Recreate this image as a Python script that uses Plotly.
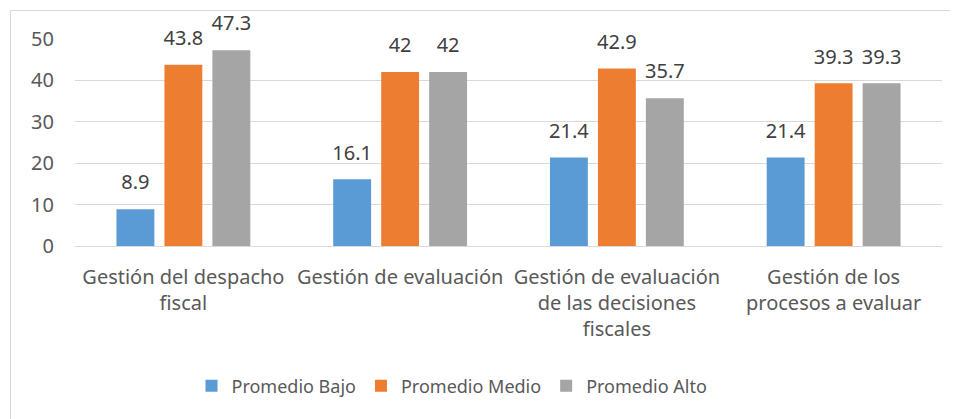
import plotly.graph_objects as go

categories = [
    "Gestión del despacho<br>fiscal",
    "Gestión de evaluación",
    "Gestión de evaluación<br>de las decisiones<br>fiscales",
    "Gestión de los<br>procesos a evaluar",
]
series_names = ["Promedio Bajo", "Promedio Medio", "Promedio Alto"]
bajo = [8.9, 16.1, 21.4, 21.4]
medio = [43.8, 42, 42.9, 39.3]
alto = [47.3, 42, 35.7, 39.3]
colors = ["#5B9BD5", "#ED7D31", "#A5A5A5"]
y_ticks = [0, 10, 20, 30, 40, 50]

FONT = "Noto Sans"
BODY = 8  # default page margin of the html body
W, H = 958 - BODY, 419 - BODY
L, R, T, B = 75 - BODY, 16, 39 - BODY, 173
pw = W - L - R
ph = H - T - B


def px_x(px):
    return (px - BODY - L) / pw


def px_y(py):
    return (H - B - (py - BODY)) / ph


fig = go.Figure()
for i, (name, vals, col) in enumerate(zip(series_names, [bajo, medio, alto], colors)):
    fig.add_trace(go.Bar(
        x=categories, y=vals, name=name, marker_color=col,
        marker_line_width=0, offsetgroup=str(i),
    ))
for i, vals in enumerate([bajo, medio, alto]):
    fig.add_trace(go.Scatter(
        x=categories, y=vals, mode="markers+text", offsetgroup=str(i),
        text=[f"{v:g}" for v in vals], textposition="top center",
        textfont=dict(family=FONT, size=20, color="#404040"),
        marker=dict(size=22, opacity=0), showlegend=False, hoverinfo="skip",
        cliponaxis=False,
    ))

fig.update_layout(
    width=W, height=H,
    margin=dict(l=L, r=R, t=T, b=B, pad=0),
    barmode="group", bargap=0.336, bargroupgap=0.21,
    scattermode="group", scattergap=0.336,
    plot_bgcolor="white", paper_bgcolor="white",
    font=dict(family=FONT, size=20, color="#595959"),
    showlegend=True,
    legend=dict(orientation="h", x=px_x(452), xanchor="center", y=px_y(386), yanchor="middle",
                font=dict(family=FONT, size=18, color="#595959"),
                itemwidth=30, traceorder="normal"),
    yaxis=dict(range=[0, 50], tickvals=y_ticks, showgrid=True, gridcolor="#D9D9D9",
               gridwidth=1, zeroline=False, showline=False, ticks="",
               tickfont=dict(family=FONT, size=20, color="#595959"), ticklabelstandoff=20),
    xaxis=dict(showline=True, linecolor="#D9D9D9", linewidth=1, ticks="",
               tickfont=dict(family=FONT, size=20, color="#595959"), ticklabelstandoff=13),
    shapes=[dict(type="rect", xref="paper", yref="paper",
                 x0=px_x(10.5), x1=px_x(990), y0=px_y(440), y1=px_y(10.5),
                 line=dict(color="#D9D9D9", width=1), fillcolor="rgba(0,0,0,0)", layer="below")],
)

fig.write_html("out.html")
